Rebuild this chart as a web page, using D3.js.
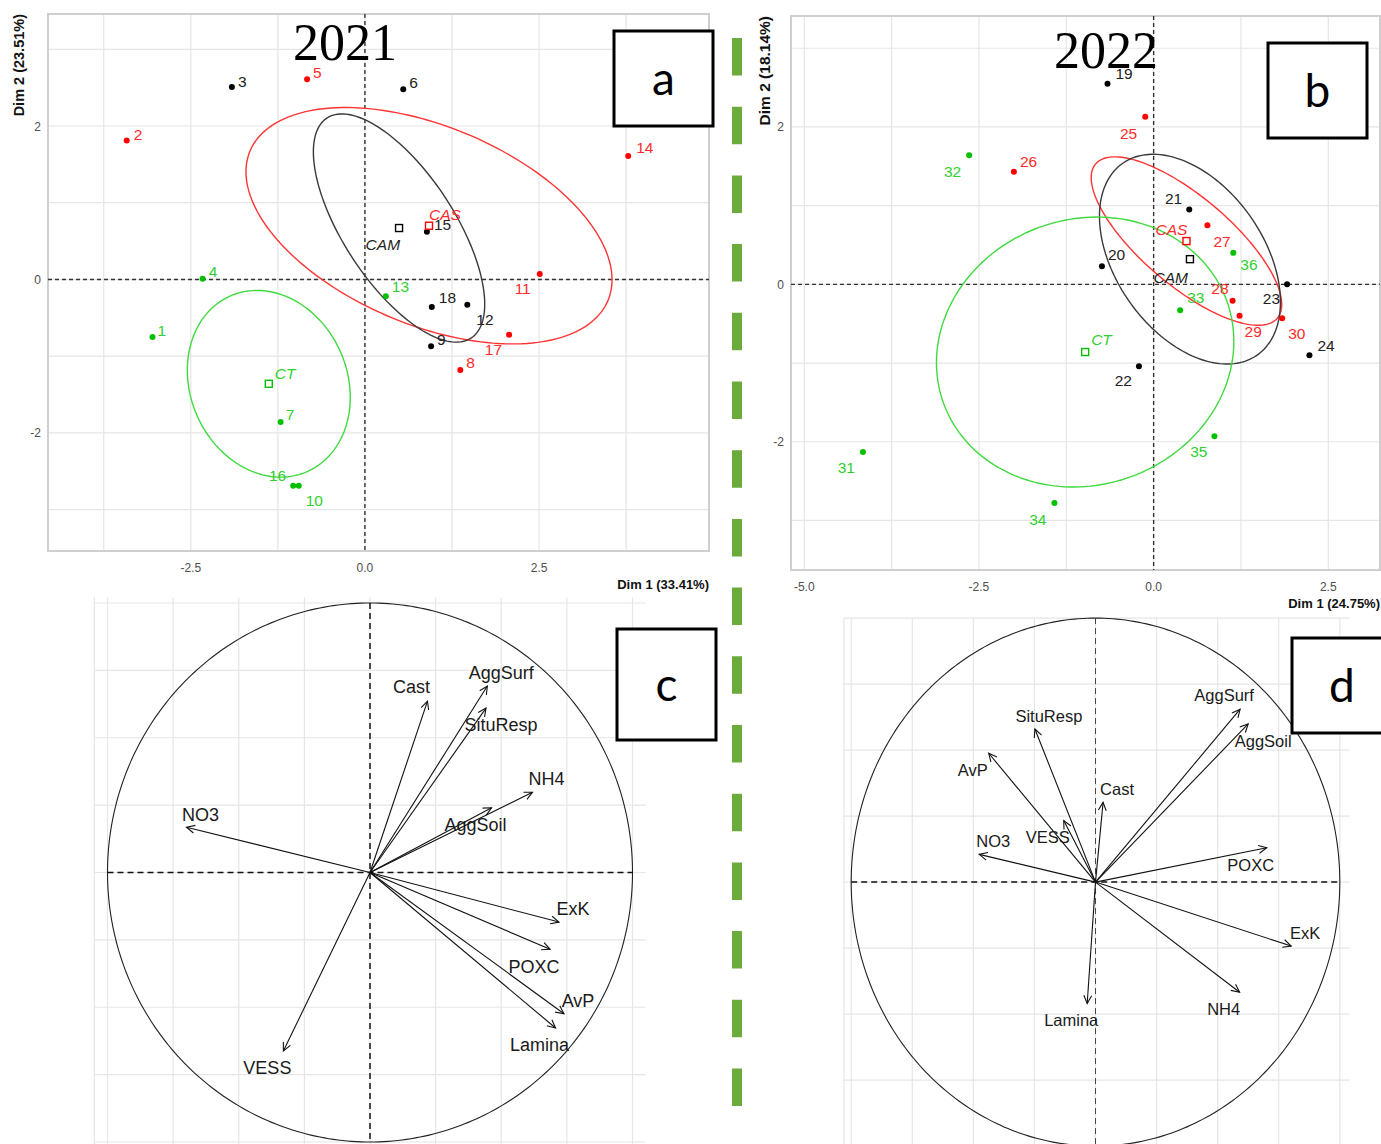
<!DOCTYPE html>
<html>
<head>
<meta charset="utf-8">
<script src="https://cdn.jsdelivr.net/npm/d3@7"></script>
<style>
  body{margin:0;background:#fff}
  svg{display:block}
</style>
</head>
<body>
<svg id="fig" width="1381" height="1144" font-family="'Liberation Sans',Arial,sans-serif"></svg>
<script>
// PCA of soil variables, 2021 (a,c) and 2022 (b,d)

// ---- individuals 2021 ----
const ids2021 = ["1","2","3","4","5","6","7","8","9","10","11","12","13","14","15","16","17","18"]
const grp2021 = ["CT","CAS","CAM","CT","CAS","CAM","CT","CAS","CAM","CT","CAS","CAM","CT","CAS","CAM","CT","CAS","CAM"]
const dim1_2021 = [-3.05,-3.42,-1.91,-2.33,-0.83,0.55,-1.21,1.37,0.95,-0.95,2.51,1.47,0.30,3.78,0.89,-1.03,2.07,0.96]
const dim2_2021 = [-0.75,1.81,2.51,0.01,2.61,2.48,-1.86,-1.18,-0.87,-2.69,0.07,-0.33,-0.22,1.61,0.62,-2.69,-0.72,-0.36]

// ---- individuals 2022 ----
const ids2022 = ["19","20","21","22","23","24","25","26","27","28","29","30","31","32","33","34","35","36"]
const grp2022 = ["CAM","CAM","CAM","CAM","CAM","CAM","CAS","CAS","CAS","CAS","CAS","CAS","CT","CT","CT","CT","CT","CT"]
const dim1_2022 = [-0.66,-0.74,0.51,-0.21,1.91,2.23,-0.12,-2.00,0.77,1.13,1.23,1.84,-4.16,-2.64,0.38,-1.42,0.87,1.14]
const dim2_2022 = [2.55,0.23,0.95,-1.04,0.00,-0.90,2.13,1.43,0.75,-0.21,-0.40,-0.43,-2.13,1.64,-0.33,-2.78,-1.93,0.40]

// ---- group centroids and confidence ellipses ----
const groups = ["CAS","CAM","CT"]
const cent1_2021 = [0.92,0.49,-1.38]
const cent2_2021 = [0.70,0.67,-1.36]
const ellRx2021 = [2.75,1.77,1.28]
const ellRy2021 = [1.31,0.77,1.10]
const ellAng2021 = [-19.6,-53,-52.6]
const cent1_2022 = [0.47,0.52,-0.98]
const cent2_2022 = [0.55,0.32,-0.86]
const ellRx2022 = [1.63,1.56,2.14]
const ellRy2022 = [0.59,1.01,1.70]
const ellAng2022 = [-36,-47,10]

// ---- variables (correlation circle) ----
const vars = ["AggSurf","AggSoil","SituResp","AvP","Cast","VESS","NO3","POXC","ExK","NH4","Lamina"]
const var1_2021 = [0.447,0.463,0.442,0.739,0.219,-0.330,-0.699,0.686,0.720,0.619,0.707]
const var2_2021 = [0.692,0.240,0.610,-0.524,0.636,-0.662,0.168,-0.285,-0.184,0.298,-0.577]
const var1_2022 = [0.592,0.625,-0.248,-0.437,0.031,-0.130,-0.476,0.701,0.801,0.590,-0.034]
const var2_2022 = [0.655,0.599,0.580,0.488,0.302,0.233,0.105,0.130,-0.242,-0.417,-0.460]

const xTicks = [-5,-2.5,0,2.5]
const yTicks = [-2,0,2]

// ---- layout (label nudges, pixel offsets) ----
const nudge2021 = {"1":[5,-1],"2":[7,-1],"3":[6,0],"4":[6,-2],"5":[6,-1],"6":[6,-1],"7":[5,-2],"8":[6,-2],"9":[6,-1],
  "10":[7,20],"11":[-9,20],"12":[9,20],"13":[6,-4],"14":[8,-3],"15":[7,-2],"16":[-7,-5],"17":[-7,20],"18":[7,-4],
  "CAS":[0,-6],"CAM":[1,22,"end"],"CT":[6,-5]}
const nudge2022 = {"19":[8,-5],"20":[6,-6],"21":[-7,-6],"22":[-7,20],"23":[-7,20],"24":[8,-4],"25":[-8,22],"26":[6,-5],
  "27":[6,22],"28":[-4,-7],"29":[5,21],"30":[6,21],"31":[-8,21],"32":[-8,22],"33":[7,-7],"34":[-8,22],"35":[-7,21],"36":[7,17],
  "CAS":[1,-6,"end"],"CAM":[-2,24],"CT":[6,-7]}
const dirC = {AggSurf:"ne",AggSoil:"sw",SituResp:"se",AvP:"ne",Cast:"nw",VESS:"sw",NO3:"ne",POXC:"sw",ExK:"ne",NH4:"ne",Lamina:"sw"}
const dirD = {AggSurf:"nw",AggSoil:"se",SituResp:"ne",AvP:"sw",Cast:"ne",VESS:"sw",NO3:"ne",POXC:"sw",ExK:"ne",NH4:"sw",Lamina:"sw"}
const dirOff = {ne:[14,-13],se:[15,17],sw:[-16,17],nw:[-16,-14]}

const ptColor = {CAS:"#ff0000",CAM:"#000000",CT:"#00c000"}
const txtColor = {CAS:"#ff2b2b",CAM:"#222222",CT:"#30d030"}
const ellColor = {CAS:"#ff3333",CAM:"#3a3a3a",CT:"#40da40"}

const svg = d3.select("#fig")
const fmt = d => d3.format(".1f")(d).replace("\u2212","-")

function drawInd(p){
  const g = svg.append("g")
  const x = d3.scaleLinear().domain(p.xDom).range([p.left,p.right])
  const y = d3.scaleLinear().domain(p.yDom).range([p.bottom,p.top])
  //grid
  const gx = d3.range(-5,5.01,1.25).filter(v=>v>p.xDom[0]&&v<p.xDom[1])
  const gy = d3.range(-3,3.01,1)
  g.selectAll(".gx").data(gx).join("line")
    .attr("x1",d=>x(d)).attr("x2",d=>x(d)).attr("y1",p.top).attr("y2",p.bottom)
    .attr("stroke","#e6e6e6").attr("stroke-width",1.2)
  g.selectAll(".gy").data(gy).join("line")
    .attr("x1",p.left).attr("x2",p.right).attr("y1",d=>y(d)).attr("y2",d=>y(d))
    .attr("stroke","#e6e6e6").attr("stroke-width",1.2)
  g.append("rect").attr("x",p.left).attr("y",p.top).attr("width",p.right-p.left).attr("height",p.bottom-p.top)
    .attr("fill","none").attr("stroke","#cfcfcf").attr("stroke-width",2)
  //zero lines
  g.append("line").attr("x1",p.left).attr("x2",p.right).attr("y1",y(0)).attr("y2",y(0))
    .attr("stroke","#333").attr("stroke-width",1.4).attr("stroke-dasharray","4,3")
  g.append("line").attr("x1",x(0)).attr("x2",x(0)).attr("y1",p.top).attr("y2",p.bottom)
    .attr("stroke","#333").attr("stroke-width",1.4).attr("stroke-dasharray","4,3")
  //year (drawn under the marks)
  g.append("text").attr("x",p.yearX).attr("y",p.yearY).attr("text-anchor","middle")
    .style("font-family","'Liberation Serif','Times New Roman',serif").attr("font-size",52).attr("fill","#000").text(p.year)
  //ellipses
  const line = d3.line().curve(d3.curveLinearClosed)
  groups.forEach((gr,i)=>{
    const a = p.ang[i]*Math.PI/180
    const pts = d3.range(0,360,2).map(t=>{
      t = t*Math.PI/180
      const ex = p.c1[i] + p.rx[i]*Math.cos(t)*Math.cos(a) - p.ry[i]*Math.sin(t)*Math.sin(a)
      const ey = p.c2[i] + p.rx[i]*Math.cos(t)*Math.sin(a) + p.ry[i]*Math.sin(t)*Math.cos(a)
      return [x(ex),y(ey)]
    })
    g.append("path").attr("d",line(pts)).attr("fill","none")
      .attr("stroke",ellColor[gr]).attr("stroke-width",1.4)
  })
  //points
  const rows = p.ids.map((id,i)=>({id,grp:p.grp[i],x:p.d1[i],y:p.d2[i]}))
  g.selectAll(".pt").data(rows).join("circle")
    .attr("cx",d=>x(d.x)).attr("cy",d=>y(d.y)).attr("r",3)
    .attr("fill",d=>ptColor[d.grp])
  g.selectAll(".lb").data(rows).join("text")
    .attr("x",d=>x(d.x)+p.nudge[d.id][0]).attr("y",d=>y(d.y)+p.nudge[d.id][1])
    .attr("text-anchor",d=>p.nudge[d.id][0]<0?"end":"start")
    .attr("font-size",15.5).attr("fill",d=>txtColor[d.grp]).text(d=>d.id)
  //centroids
  groups.forEach((gr,i)=>{
    const cx = x(p.c1[i]), cy = y(p.c2[i]), n = p.nudge[gr]
    g.append("rect").attr("x",cx-3.5).attr("y",cy-3.5).attr("width",7).attr("height",7)
      .attr("fill","#fff").attr("stroke",ptColor[gr]).attr("stroke-width",1.4)
    g.append("text").attr("x",cx+n[0]).attr("y",cy+n[1])
      .attr("text-anchor",n[2]||(n[0]<0?"end":"start"))
      .attr("font-size",15.5).attr("font-style","italic").attr("fill",txtColor[gr]).text(gr)
  })
  //tick labels
  g.selectAll(".xt").data(xTicks.filter(v=>v>=p.xDom[0]&&v<=p.xDom[1])).join("text")
    .attr("x",d=>x(d)).attr("y",p.bottom+21).attr("text-anchor","middle")
    .attr("font-size",12).attr("fill","#4d4d4d").text(fmt)
  g.selectAll(".yt").data(yTicks).join("text")
    .attr("x",p.left-7).attr("y",d=>y(d)+4.5).attr("text-anchor","end")
    .attr("font-size",12).attr("fill","#4d4d4d").text(d=>String(d).replace("\u2212","-"))
  //axis titles
  g.append("text").attr("x",p.right).attr("y",p.xTitleY).attr("text-anchor","end")
    .attr("font-size",13).attr("font-weight","bold").attr("fill","#111").text(p.xTitle)
  g.append("text").attr("transform",`translate(${p.yTitleX},${p.top}) rotate(-90)`)
    .attr("text-anchor","end").attr("font-size",p.yTitleSize).attr("font-weight","bold").attr("fill","#111").text(p.yTitle)
}

drawInd({ids:ids2021,grp:grp2021,d1:dim1_2021,d2:dim2_2021,c1:cent1_2021,c2:cent2_2021,
  rx:ellRx2021,ry:ellRy2021,ang:ellAng2021,nudge:nudge2021,
  xDom:[-4.55,4.94],yDom:[-3.54,3.46],left:48,right:709,top:14,bottom:551,
  xTitle:"Dim 1 (33.41%)",xTitleY:589,yTitle:"Dim 2 (23.51%)",yTitleX:24,yTitleSize:14.5,
  year:"2021",yearX:345,yearY:60})

drawInd({ids:ids2022,grp:grp2022,d1:dim1_2022,d2:dim2_2022,c1:cent1_2022,c2:cent2_2022,
  rx:ellRx2022,ry:ellRy2022,ang:ellAng2022,nudge:nudge2022,
  xDom:[-5.19,3.24],yDom:[-3.63,3.41],left:791,right:1380,top:16,bottom:570,
  xTitle:"Dim 1 (24.75%)",xTitleY:608,yTitle:"Dim 2 (18.14%)",yTitleX:770,yTitleSize:15.5,
  year:"2022",yearX:1106,yearY:68})

function drawVar(p){
  const g = svg.append("g")
  const x = d3.scaleLinear().domain([-1,1]).range([p.x0,p.x1])
  const y = d3.scaleLinear().domain([-1,1]).range([p.y1,p.y0])
  const gv = d3.range(-1,1.01,0.25)
  g.selectAll(".gx").data([p.edge].concat(gv)).join("line")
    .attr("x1",d=>x(d)).attr("x2",d=>x(d)).attr("y1",y(p.gTop)).attr("y2",1144)
    .attr("stroke","#e6e6e6").attr("stroke-width",1.2)
  g.selectAll(".gy").data(gv).join("line")
    .attr("x1",x(p.edge)).attr("x2",x(p.gRight)).attr("y1",d=>y(d)).attr("y2",d=>y(d))
    .attr("stroke","#e6e6e6").attr("stroke-width",1.2)
  const circ = d3.range(0,360,1).map(t=>[x(Math.cos(t*Math.PI/180)),y(Math.sin(t*Math.PI/180))])
  g.append("path").attr("d",d3.line().curve(d3.curveLinearClosed)(circ))
    .attr("fill","none").attr("stroke","#222").attr("stroke-width",1.1)
  g.append("line").attr("x1",x(-1)).attr("x2",x(1)).attr("y1",y(0)).attr("y2",y(0))
    .attr("stroke","#111").attr("stroke-width",1.5).attr("stroke-dasharray","6,4")
  g.append("line").attr("x1",x(0)).attr("x2",x(0)).attr("y1",y(1)).attr("y2",y(-1))
    .attr("stroke",p.vColor).attr("stroke-width",p.vWidth).attr("stroke-dasharray","6,4")
  const rows = vars.map((v,i)=>({v,x:p.d1[i],y:p.d2[i]}))
  rows.forEach(d=>{
    const x0 = x(0), y0 = y(0), tx = x(d.x), ty = y(d.y)
    const ang = Math.atan2(ty-y0,tx-x0), hl = 9, sp = 0.45
    g.append("line").attr("x1",x0).attr("y1",y0).attr("x2",tx).attr("y2",ty)
      .attr("stroke","#111").attr("stroke-width",1.1)
    g.append("path")
      .attr("d",`M${tx-hl*Math.cos(ang-sp)},${ty-hl*Math.sin(ang-sp)}L${tx},${ty}L${tx-hl*Math.cos(ang+sp)},${ty-hl*Math.sin(ang+sp)}`)
      .attr("fill","none").attr("stroke","#111").attr("stroke-width",1.1)
    const o = dirOff[p.dir[d.v]]
    g.append("text").attr("x",tx+o[0]).attr("y",ty+o[1]).attr("dy","0.35em")
      .attr("text-anchor","middle").attr("font-size",p.fs).attr("fill","#1a1a1a").text(d.v)
  })
}

drawVar({d1:var1_2021,d2:var2_2021,dir:dirC,x0:107.5,x1:632.5,y0:603,y1:1142,edge:-1.05,gRight:1.05,gTop:1.02,
  fs:18,vColor:"#111",vWidth:1.5})
drawVar({d1:var1_2022,d2:var2_2022,dir:dirD,x0:851.2,x1:1339.8,y0:618.1,y1:1146.1,edge:-1.03,gRight:1.04,gTop:1.0,
  fs:16.5,vColor:"#444",vWidth:1})

// panel letters
const boxes = [
  {t:"a",x:614,y:31,w:99,h:95},
  {t:"b",x:1268,y:43,w:99,h:95},
  {t:"c",x:617,y:629,w:99,h:111},
  {t:"d",x:1292,y:638,w:100,h:95}
]
boxes.forEach(b=>{
  svg.append("rect").attr("x",b.x).attr("y",b.y).attr("width",b.w).attr("height",b.h)
    .attr("fill","#fff").attr("stroke","#000").attr("stroke-width",3)
  svg.append("text").attr("x",b.x+b.w/2).attr("y",b.y+b.h/2).attr("dy","0.35em")
    .attr("text-anchor","middle").style("font-family","Lato,'Open Sans',sans-serif")
    .attr("font-size",46).attr("fill","#000").text(b.t)
})

// green divider
svg.append("line").attr("x1",737).attr("x2",737).attr("y1",38).attr("y2",1107)
  .attr("stroke","#6aab3c").attr("stroke-width",10).attr("stroke-dasharray","37.5,31.2")
</script>
</body>
</html>
